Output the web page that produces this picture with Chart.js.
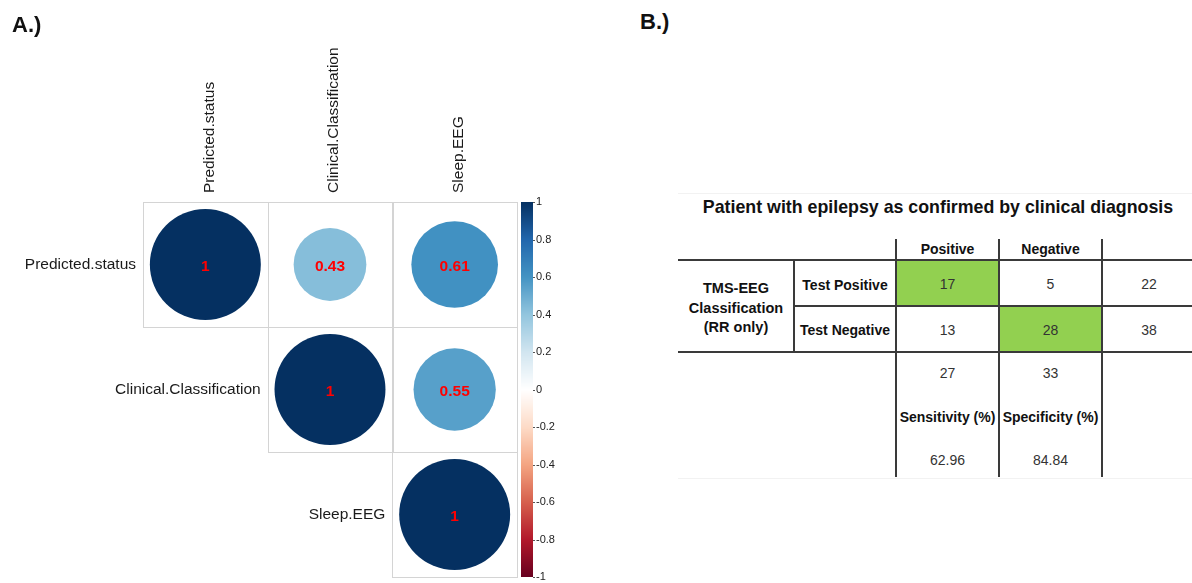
<!DOCTYPE html>
<html>
<head>
<meta charset="utf-8">
<script src="https://cdn.jsdelivr.net/npm/chart.js@4"></script>
<style>
  body { margin: 0; background: #fff; font-family: Arial, "Liberation Sans", sans-serif; }
  #wrap { position: relative; width: 1192px; height: 583px; overflow: hidden; }
  #corr { position: absolute; left: 0; top: 0; }
  .t { position: absolute; transform: translate(-50%, -50%); white-space: nowrap; line-height: 1; color: #333; }
  .b { font-weight: bold; color: #111; }
  .ln { position: absolute; background: #3a3a3a; }
  .panel { position: absolute; font-weight: bold; font-size: 22px; color: #111; }
</style>
</head>
<body>
<div id="wrap">
  <canvas id="corr" width="620" height="583"></canvas>
  <div class="panel" style="left:12px;top:12px">A.)</div>
  <div class="panel" style="left:640px;top:9px">B.)</div>
  <div id="panelB"></div>
</div>
<script>
// --- data: correlation matrix (corrplot, upper triangle)
const corrVars = ["Predicted.status", "Clinical.Classification", "Sleep.EEG"];
const corrPredicted = [1, 0.43, 0.61];
const corrClinical = [0.43, 1, 0.55];
const corrSleep = [0.61, 0.55, 1];
const corrRows = [corrPredicted, corrClinical, corrSleep];

// --- data: confusion table
const tableTitle = "Patient with epilepsy as confirmed by clinical diagnosis";
const diagCols = ["Positive", "Negative"];
const testRows = ["Test Positive", "Test Negative"];
const testPositive = [17, 5];
const testNegative = [13, 28];
const rowTotals = [22, 38];
const colTotals = [27, 33];
const metricLabels = ["Sensitivity (%)", "Specificity (%)"];
const metricValues = ["62.96", "84.84"];

// layout of the corrplot area
const AREA_L = 143, AREA_R = 517, AREA_T = 202, AREA_B = 577;
const CELL = (AREA_R - AREA_L) / 3;
const LABEL_FONT = "15.5px Arial, 'Liberation Sans'";

// RdBu palette as used by corrplot
const rdbu = ["#67001F", "#B2182B", "#D6604D", "#F4A582", "#FDDBC7", "#FFFFFF",
              "#D1E5F0", "#92C5DE", "#4393C3", "#2166AC", "#053061"];
function hex(h) { return [1, 3, 5].map(i => parseInt(h.substr(i, 2), 16)); }
function corrColor(v) {
    const p = (v + 1) / 2 * (rdbu.length - 1);
    const i = Math.min(Math.floor(p), rdbu.length - 2);
    const f = p - i;
    const a = hex(rdbu[i]), b = hex(rdbu[i + 1]);
    const c = a.map((x, k) => Math.round(x + (b[k] - x) * f));
    return "rgb(" + c.join(",") + ")";
}

const points = [];
corrRows.forEach((row, i) => {
    row.forEach((v, j) => {
        if (j >= i) points.push({ x: j + 1, y: i + 1, r: Math.sqrt(Math.abs(v)) * CELL * 0.445, v: v });
    });
});

const corrPlugin = {
    id: "corrPlugin",
    beforeDatasetsDraw(chart) {
        const ctx = chart.ctx, sx = chart.scales.x, sy = chart.scales.y;
        ctx.save();
        ctx.strokeStyle = "#d4d4d4";
        ctx.lineWidth = 1;
        points.forEach(p => {
            const x0 = sx.getPixelForValue(p.x - 0.5), x1 = sx.getPixelForValue(p.x + 0.5);
            const y0 = sy.getPixelForValue(p.y - 0.5), y1 = sy.getPixelForValue(p.y + 0.5);
            ctx.strokeRect(Math.round(x0) + 0.5, Math.round(y0) + 0.5, Math.round(x1 - x0), Math.round(y1 - y0));
        });
        ctx.restore();
    },
    afterDatasetsDraw(chart) {
        const ctx = chart.ctx, sx = chart.scales.x, sy = chart.scales.y, cb = chart.scales.cb;
        ctx.save();
        // values
        ctx.font = "bold 15.5px Arial, 'Liberation Sans'";
        ctx.fillStyle = "#ff0000";
        ctx.textAlign = "center";
        ctx.textBaseline = "middle";
        points.forEach(p => {
            ctx.fillText(String(p.v), sx.getPixelForValue(p.x), sy.getPixelForValue(p.y) + 2);
        });
        // column labels
        ctx.font = LABEL_FONT;
        ctx.fillStyle = "#1a1a1a";
        corrVars.forEach((name, j) => {
            ctx.save();
            ctx.translate(sx.getPixelForValue(j + 1) + 4, chart.chartArea.top - 9);
            ctx.rotate(-Math.PI / 2);
            ctx.textAlign = "left";
            ctx.textBaseline = "middle";
            ctx.fillText(name, 0, 0);
            ctx.restore();
        });
        // row labels
        ctx.textAlign = "right";
        ctx.textBaseline = "middle";
        corrVars.forEach((name, i) => {
            ctx.fillText(name, sx.getPixelForValue(i + 0.5) - 7, sy.getPixelForValue(i + 1));
        });
        // colour bar
        const bx = AREA_R + 4, bw = 12;
        const top = cb.getPixelForValue(1), bot = cb.getPixelForValue(-1);
        for (let y = Math.floor(top); y < Math.ceil(bot); y++) {
            ctx.fillStyle = corrColor(Math.max(-1, Math.min(1, cb.getValueForPixel(y + 0.5))));
            ctx.fillRect(bx, y, bw, 1);
        }
        ctx.strokeStyle = "#555";
        ctx.lineWidth = 1;
        cb.ticks.forEach(t => {
            const y = Math.round(cb.getPixelForValue(t.value)) + 0.5;
            ctx.beginPath();
            ctx.moveTo(bx + bw, y);
            ctx.lineTo(bx + bw + 2, y);
            ctx.stroke();
        });
        ctx.restore();
    }
};

new Chart(document.getElementById("corr"), {
    type: "bubble",
    data: {
        datasets: [{
            data: points,
            backgroundColor: points.map(p => corrColor(p.v)),
            borderColor: points.map(p => corrColor(p.v)),
            borderWidth: 0,
            hoverRadius: 0,
        }],
    },
    options: {
        responsive: false,
        animation: false,
        events: [],
        layout: {
            autoPadding: false,
            padding: { left: AREA_L, top: AREA_T, right: 620 - AREA_R - 60, bottom: 583 - AREA_B },
        },
        plugins: { legend: { display: false }, tooltip: { enabled: false } },
        scales: {
            x: { type: "linear", min: 0.5, max: 3.5, display: false },
            y: { type: "linear", min: 0.5, max: 3.5, reverse: true, display: false },
            cb: {
                type: "linear",
                axis: "y",
                position: "right",
                min: -1,
                max: 1,
                ticks: {
                    stepSize: 0.2,
                    padding: 4,
                    autoSkip: false,
                    color: "#222",
                    font: { size: 11, family: "Arial, 'Liberation Sans'" },
                    callback: v => String(Math.round(v * 10) / 10),
                },
                grid: { drawOnChartArea: false, tickLength: 15, color: "rgba(0,0,0,0)" },
                border: { display: false },
                afterFit: s => {
                    s.width = 60;
                    s.paddingTop = 0;
                    s.paddingBottom = 0;
                },
            },
        },
    },
    plugins: [corrPlugin],
});

// --- panel B: confusion table
const B = document.getElementById("panelB");
function box(x, y, w, h, color) {
    const d = document.createElement("div");
    d.className = "ln";
    d.style.cssText = "left:" + x + "px;top:" + y + "px;width:" + w + "px;height:" + h + "px;" + (color ? "background:" + color + ";" : "");
    B.appendChild(d);
}
function txt(s, cx, cy, bold, size) {
    const d = document.createElement("div");
    d.className = "t" + (bold ? " b" : "");
    d.style.left = cx + "px";
    d.style.top = cy + "px";
    d.style.fontSize = size + "px";
    d.innerHTML = s;
    B.appendChild(d);
    return d;
}
const colX = [896, 999, 1102];
const rowY = [260, 306, 352];
const colC = [947.5, 1050.5];
const totC = 1149;

box(678, 193, 514, 1, "#f2f2f2");
box(678, 478, 514, 1, "#f2f2f2");
box(colX[0], rowY[0], colX[1] - colX[0], rowY[1] - rowY[0], "#92d050");
box(colX[1], rowY[1], colX[2] - colX[1], rowY[2] - rowY[1], "#92d050");
box(678, rowY[0] - 1, 514, 2);
box(794, rowY[1] - 1, 398, 2);
box(678, rowY[2] - 1, 514, 2);
box(793, rowY[0], 2, rowY[2] - rowY[0]);
colX.forEach(x => box(x - 1, 239, 2, 238));

txt(tableTitle, 938, 208, true, 17.8);
diagCols.forEach((s, k) => txt(s, colC[k], 249, true, 14));
testRows.forEach((s, k) => txt(s, 845, [285, 330][k], true, 14));
[testPositive, testNegative].forEach((row, r) => {
    const y = [284, 330][r];
    row.forEach((v, k) => txt(String(v), colC[k], y, false, 14));
    txt(String(rowTotals[r]), totC, y, false, 14);
});
colTotals.forEach((v, k) => txt(String(v), colC[k], 373, false, 14));
metricLabels.forEach((s, k) => txt(s, colC[k], 417, true, 14));
metricValues.forEach((s, k) => txt(s, colC[k], 460, false, 14));
const side = txt("TMS-EEG<br>Classification<br>(RR only)", 736, 308, true, 14.5);
side.style.lineHeight = "19.5px";
side.style.textAlign = "center";
</script>
</body>
</html>
